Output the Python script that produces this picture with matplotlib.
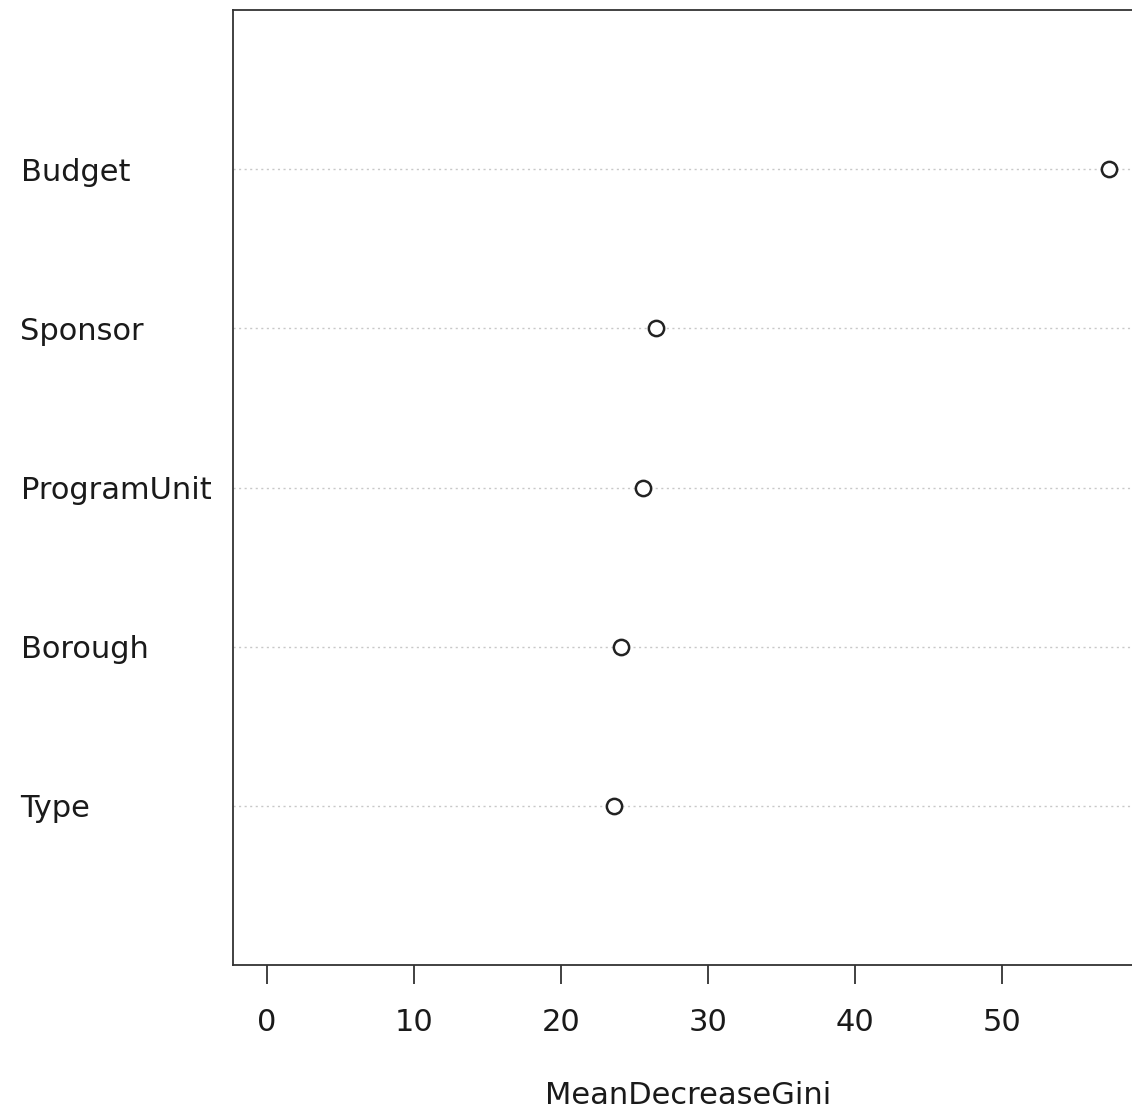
import matplotlib
matplotlib.use("Agg")
import matplotlib.pyplot as plt

plt.rcParams["font.family"] = "DejaVu Sans"

# variable importance, bottom to top (dotchart order)
features = ["Type", "Borough", "ProgramUnit", "Sponsor", "Budget"]
gini = [23.6, 24.1, 25.6, 26.5, 57.3]
xticks = [0, 10, 20, 30, 40, 50]

W, H = 1132, 1111
fig = plt.figure(figsize=(W / 100, H / 100), dpi=100)
# axes runs slightly past the right edge of the figure, as in the original
ax = fig.add_axes([233 / W, 1 - 965 / H, (1143 - 233) / W, (965 - 10) / H])

ypos = list(range(1, len(features) + 1))
xmax = max(gini)
xlim = (0 - 0.04 * xmax, xmax * 1.04)
for y in ypos:
    ax.plot(xlim, [y, y], linestyle=(0, (1.5, 2.5)), color="#c8c8c8",
            linewidth=1.0, zorder=1)
ax.plot(gini, ypos, linestyle="none", marker="o", markersize=11,
        markerfacecolor="white", markeredgecolor="#222222",
        markeredgewidth=1.8, zorder=3)

ax.set_xlim(*xlim)
ax.set_ylim(0, len(features) + 1)
ax.set_xticks(xticks)
ax.set_xticklabels([str(t) for t in xticks])
ax.tick_params(axis="x", direction="out", length=14, width=1.3,
               color="#333333", labelsize=22, pad=17, labelcolor="#1a1a1a")
ax.set_yticks(ypos)
ax.set_yticklabels(features, ha="left")
ax.tick_params(axis="y", length=0, labelsize=22, pad=153,
               labelcolor="#1a1a1a")
for spine in ax.spines.values():
    spine.set_linewidth(1.3)
    spine.set_color("#333333")
ax.set_xlabel("MeanDecreaseGini", fontsize=22, labelpad=32, color="#1a1a1a")

fig.savefig("out.png", dpi=100)
